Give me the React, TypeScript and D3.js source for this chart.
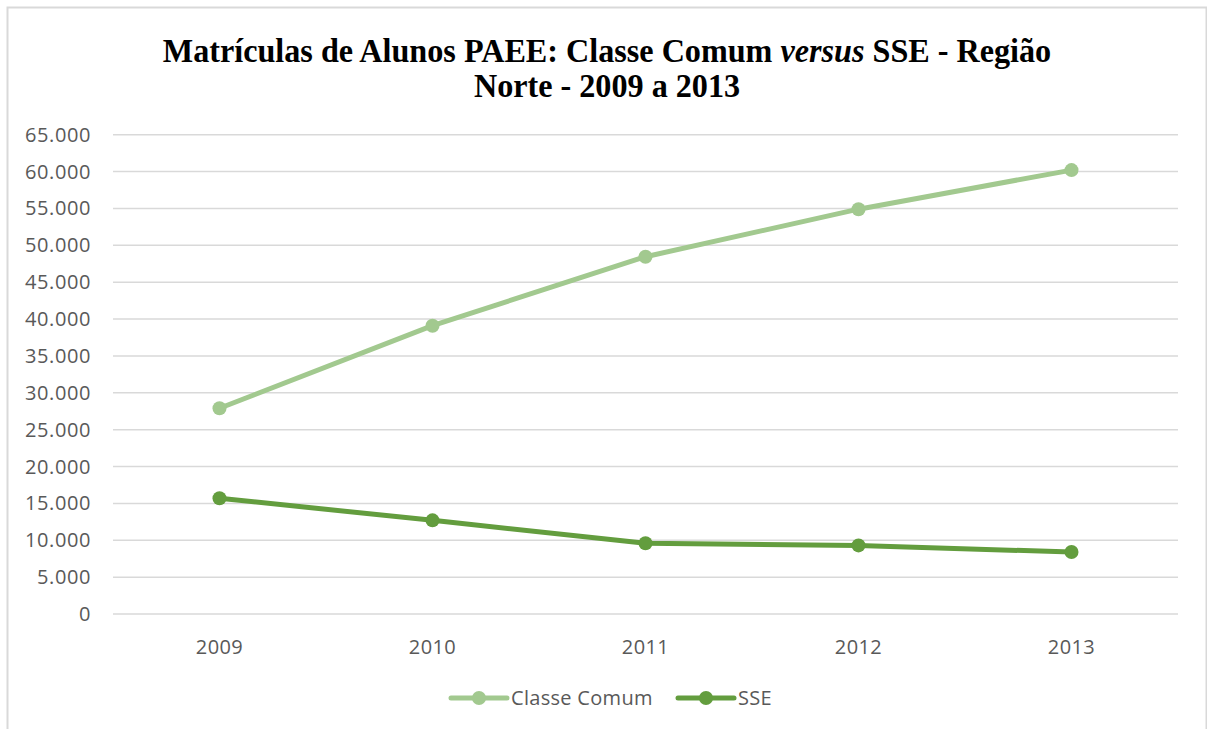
import React, { useEffect, useRef } from "react";
import * as d3 from "d3";

const years = ["2009", "2010", "2011", "2012", "2013"];
const classeComum = [27900, 39100, 48450, 54900, 60200];
const sse = [15700, 12700, 9600, 9300, 8400];
const yTicks = [0, 5000, 10000, 15000, 20000, 25000, 30000, 35000, 40000, 45000, 50000, 55000, 60000, 65000];

const LIGHT = "#A2C98F";
const DARK = "#639D3E";
const GRID = "#D9D9D9";
const TEXT = "#595959";
const FONT = "'Open Sans', sans-serif";

export default function App() {
  const ref = useRef<SVGSVGElement>(null);

  useEffect(() => {
    const W = 1207, H = 729;
    const margin = { top: 134.7, right: 29, bottom: 115, left: 113 };
    const svg = d3.select(ref.current);
    svg.selectAll("*").remove();

    // chart frame
    svg.append("rect")
      .attr("x", 7.5).attr("y", 7.5)
      .attr("width", W - 8).attr("height", H + 10)
      .attr("fill", "#fff")
      .attr("stroke", GRID).attr("stroke-width", 2);

    // title (slightly condensed like the original)
    const title = svg.append("g").attr("transform", `translate(607,0) scale(0.975,1)`);
    const t1 = title.append("text")
      .attr("x", 0).attr("y", 62)
      .attr("text-anchor", "middle")
      .style("font-family", "'Liberation Serif', 'Times New Roman', serif")
      .style("font-weight", "bold")
      .style("font-size", "33px")
      .attr("fill", "#000");
    t1.append("tspan").text("Matrículas de Alunos PAEE: Classe Comum ");
    t1.append("tspan").style("font-style", "italic").text("versus");
    t1.append("tspan").text(" SSE - Região");
    title.append("text")
      .attr("x", 0).attr("y", 97)
      .attr("text-anchor", "middle")
      .style("font-family", "'Liberation Serif', 'Times New Roman', serif")
      .style("font-weight", "bold")
      .style("font-size", "33px")
      .attr("fill", "#000")
      .text("Norte - 2009 a 2013");

    const x = d3.scaleBand().domain(years).range([margin.left, W - margin.right]);
    const y = d3.scaleLinear().domain([0, 65000]).range([H - margin.bottom, margin.top]);
    const cx = (yr: string) => (x(yr) as number) + x.bandwidth() / 2;

    // grid
    const g = svg.append("g");
    g.selectAll(".grid").data(yTicks).join("line")
      .attr("x1", margin.left).attr("x2", W - margin.right)
      .attr("y1", d => y(d)).attr("y2", d => y(d))
      .attr("stroke", GRID).attr("stroke-width", 1.5);

    // y labels
    const fmt = (v: number) => d3.format(",")(v).replace(/,/g, ".");
    g.selectAll(".ylab").data(yTicks).join("text")
      .attr("x", 91).attr("y", d => y(d) + 7)
      .attr("text-anchor", "end")
      .style("font-family", FONT).style("font-size", "20px").style("letter-spacing", "0.6px")
      .attr("fill", TEXT)
      .text(d => fmt(d));

    // x labels
    g.selectAll(".xlab").data(years).join("text")
      .attr("x", d => cx(d)).attr("y", 654)
      .attr("text-anchor", "middle")
      .style("font-family", FONT).style("font-size", "20px").style("letter-spacing", "0.4px")
      .attr("fill", TEXT)
      .text(d => d);

    const series = [
      { name: "Classe Comum", values: classeComum, color: LIGHT },
      { name: "SSE", values: sse, color: DARK },
    ];

    const line = d3.line<number>()
      .x((_, i) => cx(years[i]))
      .y(d => y(d));

    series.forEach(s => {
      g.append("path")
        .datum(s.values)
        .attr("d", line)
        .attr("fill", "none")
        .attr("stroke", s.color)
        .attr("stroke-width", 5)
        .attr("stroke-linejoin", "round")
        .attr("stroke-linecap", "round");
      g.selectAll(null).data(s.values).join("circle")
        .attr("cx", (_, i) => cx(years[i]))
        .attr("cy", d => y(d))
        .attr("r", 7)
        .attr("fill", s.color);
    });

    // legend
    const legendPos = [451, 678];
    series.forEach((s, i) => {
      const lg = svg.append("g").attr("transform", `translate(${legendPos[i]},698)`);
      lg.append("line").attr("x1", 0).attr("x2", 56).attr("y1", 0).attr("y2", 0)
        .attr("stroke", s.color).attr("stroke-width", 5).attr("stroke-linecap", "round");
      lg.append("circle").attr("cx", 28).attr("cy", 0).attr("r", 7).attr("fill", s.color);
      lg.append("text").attr("x", 60).attr("y", 7)
        .style("font-family", FONT).style("font-size", "20px").style("letter-spacing", "0.3px")
        .attr("fill", TEXT)
        .text(s.name);
    });
  }, []);

  return (
    <svg ref={ref} width={1207} height={729}
      style={{ position: "absolute", top: 0, left: 0, display: "block" }} />
  );
}
